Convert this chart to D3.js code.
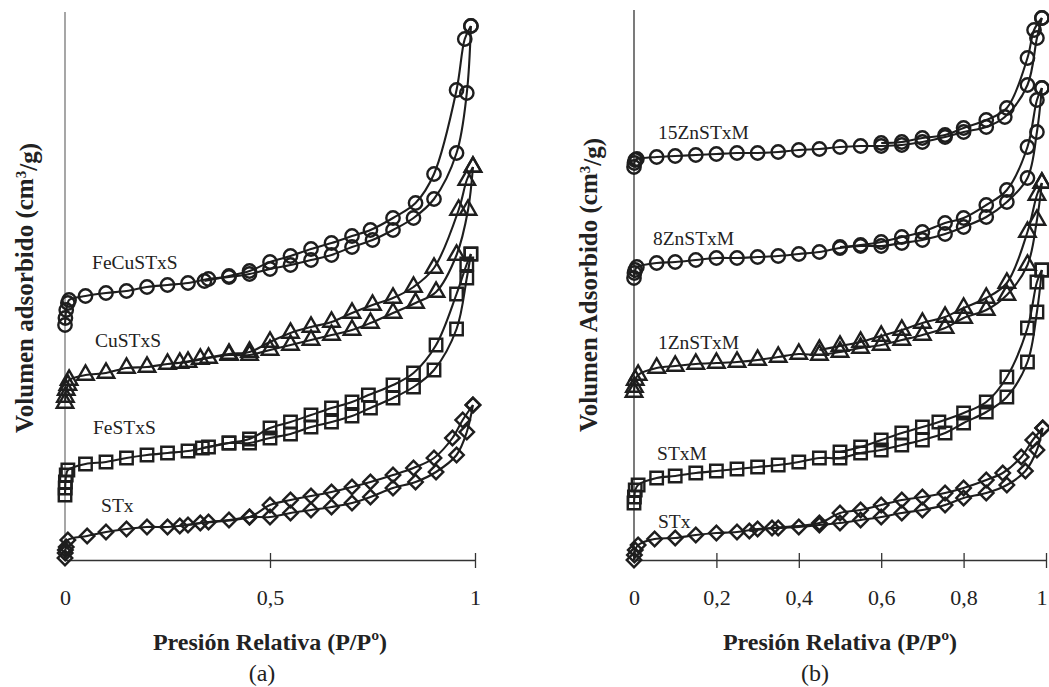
<!DOCTYPE html>
<html>
<head>
<meta charset="utf-8">
<script src="https://cdn.jsdelivr.net/npm/d3@7"></script>
<style>
  html, body { margin: 0; padding: 0; background: #fff; }
  svg { display: block; }
  text { font-family: "Liberation Serif", "Times New Roman", serif; fill: #222; }
</style>
</head>
<body>
<svg id="chart" width="1049" height="687"></svg>
<script>
// N2 adsorption–desorption isotherms, [P/P0, volume (offset for stacking)]
// Panel (a)
const feCuSTxS_ads = [[0,47.0],[0.001,48.4],[0.003,50.0],[0.007,51.4],[0.01,52.0],[0.05,52.8],[0.1,53.4],[0.15,53.8],[0.2,54.6],[0.25,55.0],[0.3,55.4],[0.35,56.2],[0.4,56.6],[0.45,57.2],[0.5,58.2],[0.55,59.0],[0.6,60.0],[0.65,61.0],[0.7,62.6],[0.75,64.0],[0.8,66.0],[0.85,68.4],[0.9,72.2],[0.955,81.4],[0.98,93.4],[0.99,106.8]];
const feCuSTxS_des = [[0.99,106.8],[0.975,104.2],[0.955,94.0],[0.9,77.2],[0.855,71.4],[0.8,68.4],[0.745,66.0],[0.7,64.8],[0.65,63.4],[0.6,62.2],[0.55,60.8],[0.5,59.6],[0.45,57.8],[0.4,56.8],[0.34,55.8]];

const cuSTxS_ads = [[0,31.4],[0.001,32.6],[0.003,34.0],[0.007,35.0],[0.01,36.0],[0.05,37.0],[0.1,37.4],[0.15,38.4],[0.2,38.6],[0.25,39.2],[0.3,39.6],[0.35,40.4],[0.4,41.0],[0.45,41.0],[0.5,42.0],[0.55,43.0],[0.6,44.0],[0.65,45.0],[0.7,46.0],[0.745,47.4],[0.8,49.4],[0.855,51.4],[0.905,53.6],[0.955,61.0],[0.983,70.0],[0.995,78.6]];
const cuSTxS_des = [[0.995,78.6],[0.98,76.0],[0.96,70.0],[0.9,58.4],[0.85,54.6],[0.8,52.4],[0.75,51.0],[0.7,49.4],[0.65,47.6],[0.6,46.6],[0.55,45.4],[0.5,43.6],[0.45,41.6],[0.4,41.2],[0.33,40.2],[0.28,39.4]];

const feSTxS_ads = [[0,13.0],[0.0005,14.4],[0.001,15.6],[0.003,17.0],[0.007,18.0],[0.05,19.2],[0.1,19.6],[0.15,20.4],[0.2,21.0],[0.25,21.4],[0.3,21.8],[0.35,22.6],[0.4,23.4],[0.45,23.4],[0.5,24.4],[0.55,25.2],[0.6,26.6],[0.65,27.6],[0.7,28.8],[0.745,30.4],[0.8,32.4],[0.85,34.6],[0.9,38.0],[0.955,46.2],[0.98,56.4],[0.99,61.2]];
const feSTxS_des = [[0.99,61.2],[0.98,59.2],[0.955,53.2],[0.905,43.0],[0.85,37.4],[0.8,35.0],[0.74,33.0],[0.7,31.6],[0.65,30.4],[0.6,29.0],[0.55,27.6],[0.5,26.4],[0.45,24.2],[0.4,23.4],[0.335,22.4]];

const stxA_ads = [[0,0.4],[0.0005,1.4],[0.001,2.0],[0.003,2.6],[0.007,4.0],[0.054,4.8],[0.1,5.6],[0.15,6.2],[0.2,6.6],[0.25,6.6],[0.3,7.0],[0.35,7.6],[0.4,8.0],[0.45,8.6],[0.5,8.6],[0.55,9.4],[0.6,10.0],[0.65,10.6],[0.7,11.4],[0.745,12.6],[0.8,14.4],[0.855,15.6],[0.905,17.6],[0.955,21.0],[0.98,25.6],[0.995,31.0]];
const stxA_des = [[0.995,31.0],[0.97,28.0],[0.945,24.4],[0.9,20.4],[0.85,18.4],[0.8,17.0],[0.745,15.6],[0.7,14.6],[0.65,13.6],[0.6,12.8],[0.55,12.0],[0.5,11.0],[0.45,8.6],[0.33,7.4],[0.28,6.8]];

// Panel (b)
const zn15_ads = [[0,78.6],[0.001,79.4],[0.003,80.0],[0.007,80.2],[0.055,80.6],[0.1,80.8],[0.15,81.0],[0.2,81.2],[0.25,81.4],[0.3,81.4],[0.35,81.6],[0.4,82.0],[0.45,82.2],[0.5,82.6],[0.55,82.8],[0.6,82.8],[0.65,83.0],[0.7,83.6],[0.755,84.6],[0.8,85.6],[0.855,86.6],[0.9,88.6],[0.955,95.0],[0.978,104.4],[0.99,108.4]];
const zn15_des = [[0.99,108.4],[0.971,106.0],[0.955,100.4],[0.905,90.4],[0.855,88.0],[0.8,86.4],[0.755,85.0],[0.7,84.4],[0.65,83.6],[0.6,83.4]];

const zn8_ads = [[0,56.4],[0.001,57.4],[0.003,58.0],[0.007,58.6],[0.055,59.4],[0.1,59.6],[0.15,60.0],[0.2,60.4],[0.25,60.4],[0.3,60.6],[0.35,60.8],[0.4,61.2],[0.45,61.6],[0.5,62.4],[0.55,62.8],[0.6,62.8],[0.65,63.4],[0.7,64.0],[0.755,65.2],[0.8,66.6],[0.855,68.6],[0.905,71.6],[0.955,76.4],[0.978,85.6],[0.99,94.4]];
const zn8_des = [[0.99,94.4],[0.978,92.0],[0.955,82.6],[0.905,74.0],[0.855,71.0],[0.8,68.4],[0.755,67.4],[0.7,65.6],[0.65,64.6],[0.6,63.6],[0.55,63.0],[0.5,62.6]];

const zn1_ads = [[0,33.6],[0.001,34.6],[0.003,36.0],[0.01,37.0],[0.055,38.4],[0.1,38.8],[0.15,39.2],[0.2,39.4],[0.25,39.6],[0.3,40.0],[0.35,40.6],[0.4,41.2],[0.45,41.0],[0.5,41.6],[0.55,42.4],[0.6,43.0],[0.65,44.0],[0.7,45.0],[0.755,46.4],[0.8,48.4],[0.855,50.0],[0.905,53.0],[0.955,59.0],[0.978,68.0],[0.99,75.4]];
const zn1_des = [[0.99,75.4],[0.978,73.0],[0.955,65.6],[0.905,55.4],[0.855,52.4],[0.8,50.4],[0.755,48.6],[0.7,47.4],[0.65,46.0],[0.6,44.8],[0.55,43.6],[0.5,42.8],[0.45,42.0]];

const stxM_ads = [[0,11.4],[0.001,12.6],[0.003,14.0],[0.01,15.0],[0.055,16.4],[0.1,16.8],[0.15,17.4],[0.2,17.8],[0.25,18.2],[0.3,18.6],[0.35,19.0],[0.4,19.6],[0.45,20.4],[0.5,20.4],[0.55,21.4],[0.6,22.0],[0.65,23.0],[0.7,24.0],[0.755,25.4],[0.8,27.4],[0.855,29.6],[0.905,32.6],[0.955,39.6],[0.978,49.6],[0.99,58.0]];
const stxM_des = [[0.99,58.0],[0.978,55.6],[0.955,46.4],[0.905,36.6],[0.855,31.6],[0.8,29.4],[0.74,27.6],[0.7,26.6],[0.65,25.4],[0.6,24.0],[0.55,22.6],[0.5,21.6]];

const stxB_ads = [[0,0.0],[0.001,1.0],[0.003,2.0],[0.01,3.0],[0.05,4.2],[0.1,4.4],[0.15,5.0],[0.2,5.4],[0.25,5.6],[0.3,6.2],[0.35,6.4],[0.4,6.6],[0.45,7.0],[0.5,7.4],[0.55,8.0],[0.6,8.6],[0.65,9.4],[0.7,10.0],[0.755,11.0],[0.8,12.4],[0.855,13.4],[0.905,15.0],[0.95,17.8],[0.978,22.0],[0.992,26.4]];
const stxB_des = [[0.992,26.4],[0.968,24.0],[0.94,20.6],[0.895,17.4],[0.855,16.0],[0.8,14.4],[0.755,13.4],[0.7,12.6],[0.65,12.0],[0.6,11.0],[0.55,10.0],[0.5,9.4],[0.45,7.4],[0.335,6.4],[0.28,5.8]];

// Axis ticks
const ticksA = [0, 0.5, 1];
const ticksB = [0, 0.2, 0.4, 0.6, 0.8, 1];

// Sample names with label anchors [P/P0, volume]
const labelsA = [["FeCuSTxS",0.066,59.6],["CuSTxS",0.073,44.0],["FeSTxS",0.068,26.6],["STx",0.088,11.0]];
const labelsB = [["15ZnSTxM",0.058,85.6],["8ZnSTxM",0.046,64.4],["1ZnSTxM",0.058,43.6],["STxM",0.056,21.4],["STx",0.058,7.8]];

const seriesA = [
  {ads: feCuSTxS_ads, des: feCuSTxS_des, shape: "circle"},
  {ads: cuSTxS_ads, des: cuSTxS_des, shape: "triangle"},
  {ads: feSTxS_ads, des: feSTxS_des, shape: "square"},
  {ads: stxA_ads, des: stxA_des, shape: "diamond"}
];
const seriesB = [
  {ads: zn15_ads, des: zn15_des, shape: "circle"},
  {ads: zn8_ads, des: zn8_des, shape: "circle"},
  {ads: zn1_ads, des: zn1_des, shape: "triangle"},
  {ads: stxM_ads, des: stxM_des, shape: "square"},
  {ads: stxB_ads, des: stxB_des, shape: "diamond"}
];

const svg = d3.select("#chart");
const ink = "#1e1e1e";
const y = d3.scaleLinear().domain([0, 110]).range([560, 10]);
const esLocale = d3.formatLocale({decimal: ",", thousands: ".", grouping: [3], currency: ["", " €"]});
const fmt = v => esLocale.format("~g")(v);

const symbols = {
  circle:   {type: d3.symbolCircle, size: 140, rot: 0},
  triangle: {type: d3.symbolTriangle, size: 118, rot: 0},
  square:   {type: d3.symbolSquare, size: 155, rot: 0},
  diamond:  {type: d3.symbolSquare, size: 105, rot: 45}
};

function panel(opts) {
  const x = d3.scaleLinear().domain([0, 1]).range(opts.range);
  const g = svg.append("g");

  // vertical axis (no ticks)
  g.append("line")
    .attr("x1", x(0)).attr("x2", x(0))
    .attr("y1", y(0)).attr("y2", y(opts.yTop))
    .attr("stroke", opts.yAxisColor).attr("stroke-width", 1.3);

  // horizontal axis with crossing ticks
  const ax = g.append("g")
    .attr("transform", `translate(0,${y(0)})`)
    .call(d3.axisBottom(x).tickValues(opts.ticks).tickFormat(fmt).tickSizeOuter(0).tickSizeInner(8));
  ax.select(".domain").attr("stroke", "#333").attr("stroke-width", 1.3);
  ax.selectAll(".tick line")
    .attr("y1", -7).attr("y2", 8).attr("stroke", "#333").attr("stroke-width", 1.3)
    .filter(d => d === 0).remove();
  ax.selectAll(".tick text")
    .attr("y", 37).attr("dy", "0.35em")
    .style("font-family", '"Liberation Serif", "Times New Roman", serif')
    .style("font-size", "22px").attr("fill", "#222");
  // keep the last label inside the page edge
  if (opts.lastTickEnd) {
    ax.selectAll(".tick text").filter(d => d === 1)
      .attr("text-anchor", "end").attr("x", 1);
  }

  // isotherm curves
  const line = d3.line().x(d => x(d[0])).y(d => y(d[1])).curve(d3.curveCatmullRom.alpha(0.5));
  opts.series.forEach(s => {
    [s.ads, s.des].forEach(branch => {
      g.append("path").datum(branch)
        .attr("d", line).attr("fill", "none")
        .attr("stroke", ink).attr("stroke-width", 2.1);
    });
  });
  // markers
  opts.series.forEach(s => {
    const sym = symbols[s.shape];
    const gen = d3.symbol().type(sym.type).size(sym.size);
    g.append("g").selectAll("path")
      .data(s.ads.concat(s.des))
      .join("path")
      .attr("d", gen)
      .attr("transform", d => `translate(${x(d[0])},${y(d[1])}) rotate(${sym.rot})`)
      .attr("fill", "none").attr("stroke", ink).attr("stroke-width", 2.4);
  });

  // sample names
  g.selectAll("text.lbl").data(opts.labels).join("text")
    .attr("class", "lbl")
    .attr("x", d => x(d[1])).attr("y", d => y(d[2]))
    .attr("dy", "0.35em")
    .style("font-size", "19.5px")
    .text(d => d[0]);

  // axis titles
  g.append("text")
    .attr("x", opts.titleX).attr("y", 642).attr("dy", "0.35em")
    .attr("text-anchor", "middle")
    .style("font-size", "24px").style("font-weight", "bold")
    .text("Presión Relativa (P/Pº)");
  g.append("text")
    .attr("x", opts.tagX).attr("y", 673).attr("dy", "0.35em")
    .attr("text-anchor", "middle")
    .style("font-size", "24px")
    .text(opts.tag);

  const yt = g.append("text")
    .attr("transform", `translate(${opts.yTitleX},${opts.yTitleY}) rotate(-90)`)
    .attr("text-anchor", "middle").attr("dy", "0.35em")
    .style("font-size", "25px").style("font-weight", "bold");
  yt.append("tspan").text(opts.yTitle + " (cm");
  yt.append("tspan").attr("dy", "-0.45em").style("font-size", "15px").text("3");
  yt.append("tspan").attr("dy", "0.45em").text("/g)");
}

panel({range: [65, 475], ticks: ticksA, series: seriesA, labels: labelsA, yTop: 109.6,
  yAxisColor: "#777", titleX: 270, tagX: 262, tag: "(a)",
  yTitle: "Volumen adsorbido", yTitleX: 24, yTitleY: 288});
panel({range: [634, 1046], ticks: ticksB, series: seriesB, labels: labelsB, yTop: 110,
  yAxisColor: "#333", titleX: 840, tagX: 815, tag: "(b)", lastTickEnd: true,
  yTitle: "Volumen Adsorbido", yTitleX: 588, yTitleY: 285});
</script>
</body>
</html>
